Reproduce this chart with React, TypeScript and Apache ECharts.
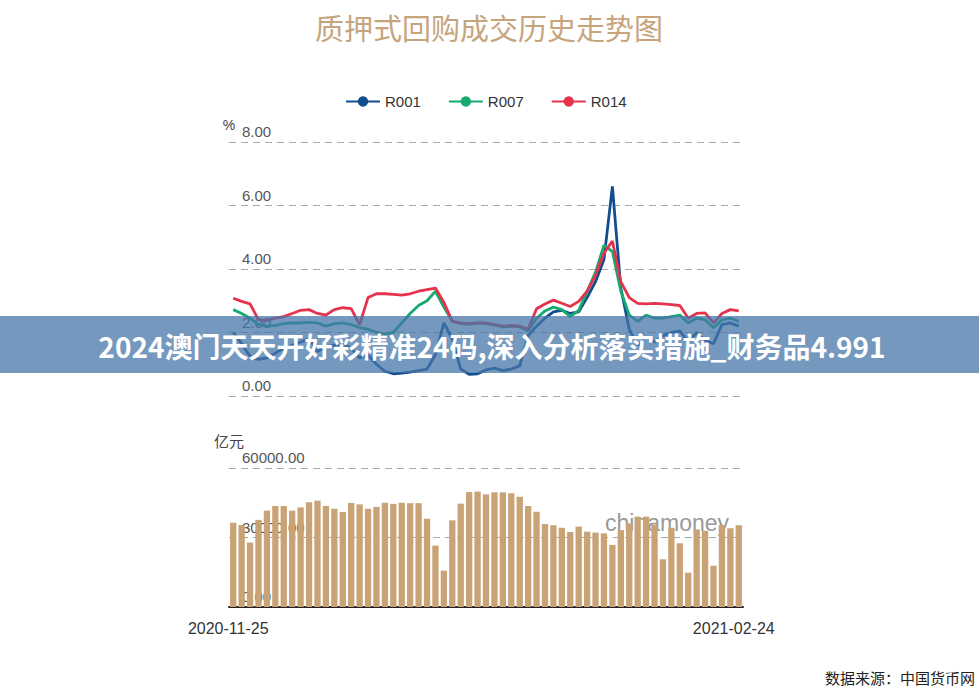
import React, { useEffect, useRef } from "react";
import * as echarts from "echarts";

const dates = [
  "2020-11-25", "2020-11-26", "2020-11-27", "2020-11-30",
  "2020-12-01", "2020-12-02", "2020-12-03", "2020-12-04", "2020-12-07", "2020-12-08", "2020-12-09", "2020-12-10", "2020-12-11",
  "2020-12-14", "2020-12-15", "2020-12-16", "2020-12-17", "2020-12-18", "2020-12-21", "2020-12-22", "2020-12-23", "2020-12-24",
  "2020-12-25", "2020-12-28", "2020-12-29", "2020-12-30", "2020-12-31",
  "2021-01-04", "2021-01-05", "2021-01-06", "2021-01-07", "2021-01-08", "2021-01-11", "2021-01-12", "2021-01-13", "2021-01-14",
  "2021-01-15", "2021-01-18", "2021-01-19", "2021-01-20", "2021-01-21", "2021-01-22", "2021-01-25", "2021-01-26", "2021-01-27",
  "2021-01-28", "2021-01-29",
  "2021-02-01", "2021-02-02", "2021-02-03", "2021-02-04", "2021-02-05", "2021-02-07", "2021-02-08", "2021-02-09", "2021-02-10",
  "2021-02-18", "2021-02-19", "2021-02-22", "2021-02-23", "2021-02-24",
];

const r001 = [
  2.0, 1.65, 1.25, 1.15, 1.2, 1.35, 1.5, 1.6, 1.7, 1.8,
  1.4, 1.55, 1.6, 1.65, 1.5, 1.2, 1.3, 1.0, 0.78, 0.7,
  0.72, 0.75, 0.8, 0.85, 1.3, 2.3, 1.8, 0.85, 0.68, 0.7,
  0.82, 0.88, 0.8, 0.85, 0.95, 1.9, 2.2, 2.45, 2.65, 2.7,
  2.6, 2.65, 3.1, 3.6, 4.3, 6.6, 3.4, 2.1, 1.6, 1.85,
  1.7, 1.9, 2.0, 2.05, 1.7, 2.0, 1.75, 1.65, 2.25, 2.3, 2.2,
];

const r007 = [
  2.72, 2.6, 2.45, 2.25, 2.2, 2.22, 2.28, 2.3, 2.3, 2.32,
  2.3, 2.2, 2.28, 2.3, 2.25, 2.15, 2.1, 2.0, 1.95, 2.0,
  2.3, 2.6, 2.85, 3.0, 3.3, 2.8, 2.35, 2.28, 2.26, 2.3,
  2.28, 2.24, 2.18, 2.2, 2.18, 2.05, 2.45, 2.68, 2.8, 2.72,
  2.5, 2.7, 3.3, 3.9, 4.75, 4.55, 3.3, 2.55, 2.35, 2.55,
  2.45, 2.45, 2.5, 2.55, 2.3, 2.45, 2.4, 2.15, 2.4, 2.45, 2.35,
];

const r014 = [
  3.08, 2.98, 2.9, 2.4, 2.38, 2.45, 2.5, 2.6, 2.7, 2.72,
  2.6, 2.55, 2.72, 2.78, 2.75, 2.25, 3.1, 3.22, 3.22, 3.2,
  3.18, 3.22, 3.3, 3.35, 3.4, 2.95, 2.35, 2.3, 2.28, 2.3,
  2.3, 2.25, 2.2, 2.22, 2.2, 2.1, 2.75, 2.9, 3.02, 2.92,
  2.82, 2.98, 3.3, 3.8, 4.5, 4.88, 3.6, 3.1, 2.92, 2.9,
  2.92, 2.9, 2.88, 2.85, 2.45, 2.6, 2.62, 2.3, 2.6, 2.72, 2.68,
];

const volume = [
  36400, 35400, 27800, 37600, 41600, 43600, 43600, 41600, 43000, 45200,
  45900, 43600, 42400, 41000, 44900, 44300, 42400, 43200, 45000, 44500,
  45000, 44800, 44800, 38100, 26500, 15700, 37400, 44600, 49600, 49800,
  48600, 49500, 49500, 49100, 47600, 43600, 41100, 35800, 35300, 34200,
  32400, 34700, 32500, 32100, 31800, 26800, 33200, 36100, 39000, 39000,
  35500, 20600, 34200, 27500, 14800, 33500, 32900, 17800, 35400, 34000, 35300,
];

const seriesNames = ["R001", "R007", "R014"];
const chartTitle = "质押式回购成交历史走势图";
const bannerText = "2024澳门天天开好彩精准24码,深入分析落实措施_财务品4.991";
const sourceText = "数据来源：中国货币网";
const watermarkText = "chinamoney";

const LAT = '"Liberation Sans", Arial, sans-serif';
const CJK = '"Noto Sans CJK SC", sans-serif';

export default function App() {
  const ref = useRef<HTMLDivElement>(null);
  useEffect(() => {
    const chart = echarts.init(ref.current!, null, { renderer: "svg" });
    const gridLeft = 229;
    const gridWidth = 514;
    const yLabel = {
      inside: true,
      margin: 13,
      verticalAlign: "bottom" as const,
      color: "#555",
      fontSize: 15,
      fontFamily: LAT,
      padding: [0, 0, 3, 0],
      formatter: (v: number) => v.toFixed(2),
    };
    const split = { show: true, lineStyle: { type: [7, 5], color: "#a8a8a8", width: 1 } };
    const lineCommon = {
      type: "line" as const,
      xAxisIndex: 0,
      yAxisIndex: 0,
      symbol: "circle",
      symbolSize: 10,
      showSymbol: false,
      lineStyle: { width: 2.8 },
    };
    chart.setOption({
      animation: false,
      backgroundColor: "#fff",
      color: ["#114d8f", "#17ab70", "#e6334c"],
      title: {
        text: chartTitle,
        left: 310,
        top: 7,
        textStyle: { color: "#c6a47c", fontSize: 29, fontWeight: "normal", fontFamily: CJK },
      },
      legend: {
        data: seriesNames,
        left: 340,
        top: 89,
        itemWidth: 34,
        itemHeight: 13,
        itemGap: 27,
        textStyle: { color: "#333", fontSize: 15, fontFamily: LAT },
      },
      grid: [
        { left: gridLeft, width: gridWidth, top: 142, height: 254 },
        { left: gridLeft, width: gridWidth, top: 468, height: 139 },
      ],
      xAxis: [
        {
          type: "category",
          gridIndex: 0,
          data: dates,
          boundaryGap: true,
          axisLine: { show: false },
          axisTick: { show: false },
          axisLabel: { show: false },
        },
        {
          type: "category",
          gridIndex: 1,
          data: dates,
          boundaryGap: true,
          axisLine: { show: true, lineStyle: { color: "#222", width: 2 } },
          axisTick: { show: false },
          axisLabel: {
            interval: (i: number) => i === 0 || i === dates.length - 1,
            color: "#333",
            fontSize: 16,
            fontFamily: LAT,
            margin: 13,
            padding: [0, 10, 0, 0],
          },
        },
      ],
      yAxis: [
        {
          type: "value",
          gridIndex: 0,
          min: 0,
          max: 8,
          interval: 2,
          name: "%",
          nameGap: 10,
          nameTextStyle: { color: "#444", fontSize: 14, fontFamily: LAT },
          axisLine: { show: false },
          axisTick: { show: false },
          axisLabel: yLabel,
          splitLine: split,
        },
        {
          type: "value",
          gridIndex: 1,
          min: 0,
          max: 60000,
          interval: 30000,
          name: "亿元",
          nameGap: 20,
          nameTextStyle: { color: "#444", fontSize: 15, fontFamily: CJK },
          axisLine: { show: false },
          axisTick: { show: false },
          axisLabel: yLabel,
          splitLine: split,
        },
      ],
      series: [
        { ...lineCommon, name: seriesNames[0], data: r001 },
        { ...lineCommon, name: seriesNames[1], data: r007 },
        { ...lineCommon, name: seriesNames[2], data: r014 },
        {
          type: "bar",
          name: "成交量",
          xAxisIndex: 1,
          yAxisIndex: 1,
          data: volume,
          barCategoryGap: "25%",
          itemStyle: { color: "#c9a375" },
        },
      ],
      graphic: [
        {
          type: "text",
          x: 605,
          y: 523,
          z: 1,
          style: {
            text: watermarkText,
            fill: "#999",
            font: `23px ${LAT}`,
            textVerticalAlign: "middle",
          },
        },
        {
          type: "rect",
          x: 0,
          y: 316,
          z: 100,
          shape: { width: 979, height: 57 },
          style: { fill: "rgba(70,118,168,0.75)" },
        },
        {
          type: "text",
          x: 492,
          y: 346,
          z: 101,
          style: {
            text: bannerText,
            fill: "#fff",
            font: `bold 28px ${CJK}`,
            textAlign: "center",
            textVerticalAlign: "middle",
          },
        },
        {
          type: "text",
          x: 975,
          y: 677,
          z: 101,
          style: {
            text: sourceText,
            fill: "#222",
            font: `15px ${CJK}`,
            textAlign: "right",
            textVerticalAlign: "middle",
          },
        },
      ],
    });
    return () => chart.dispose();
  }, []);
  return (
    <div
      ref={ref}
      style={{ position: "fixed", left: 0, top: 0, width: 979, height: 691, background: "#fff" }}
    />
  );
}
